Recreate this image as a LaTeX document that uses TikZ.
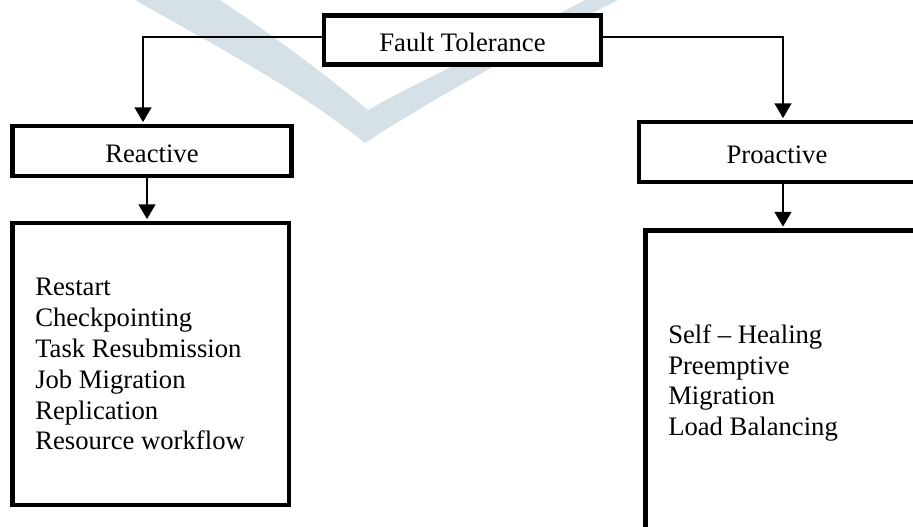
\documentclass[tikz,border=0pt]{standalone}
\usepackage{fontspec}
\setmainfont{Liberation Serif}
\usetikzlibrary{arrows.meta}
\definecolor{wmark}{RGB}{214,224,231}
\tikzset{
  hdr/.style={draw,fill=white,line width=3.4pt,inner sep=0pt,text height=18pt,text depth=0pt},
  lst/.style={draw,fill=white,line width=3.4pt,inner sep=0pt},
  arr/.style={line width=1.4pt,-{Triangle[width=12.5pt,length=11pt]},shorten >=1.2pt},
  item/.style={anchor=base west,inner sep=0pt}
}

\begin{document}
\begin{tikzpicture}[x=0.75pt,y=-0.75pt,font=\fontsize{20}{23}\selectfont]
      \clip(0,0)rectangle(913,527);
      % watermark
      \fill[wmark](135,0)..controls(205,40)and(300,90)..(365,143)
                 ..controls(430,100)and(540,40)..(618,0)--(585,0)
                 ..controls(510,40)and(420,80)..(368,110)
                 ..controls(320,70)and(265,30)..(220,0)--cycle;

      \node[hdr,minimum width=207.75pt,minimum height=36.75pt](ft)at(462.5,40){Fault Tolerance};
      \node[hdr,minimum width=208.9pt,minimum height=37.5pt](react)at(152,151){Reactive};
      \node[hdr,minimum width=207pt,minimum height=45pt](proact)at(777,152){Proactive};
      \node[lst,minimum width=207.4pt,minimum height=211.5pt](rlist)at(150.75,364){};
      \node[lst,minimum width=207pt,minimum height=240pt](plist)at(783.5,390.5){};

      \foreach \t[count=\i] in{Restart,Checkpointing,Task Resubmission,Job Migration,Replication,Resource workflow}{
        \node[item](r\i)at(35,265+30.8*\i){\t};
      }
      \foreach \t[count=\i] in{Self \textendash{} Healing,Preemptive,Migration,Load Balancing}{
        \node[item](p\i)at(668,312.5+30.8*\i){\t};
      }

      \draw[arr]([yshift=2.25pt]ft.west)-|([xshift=-6.75pt]react.north);
      \draw[arr]([yshift=2.25pt]ft.east)-|([xshift=4.5pt]proact.north);
      \draw[arr]([xshift=-3.75pt]react.south)--([xshift=-3.75pt]react.south|-rlist.north);
      \draw[arr]([xshift=4.5pt]proact.south)--([xshift=4.5pt]proact.south|-plist.north);
    \end{tikzpicture}
\end{document}
